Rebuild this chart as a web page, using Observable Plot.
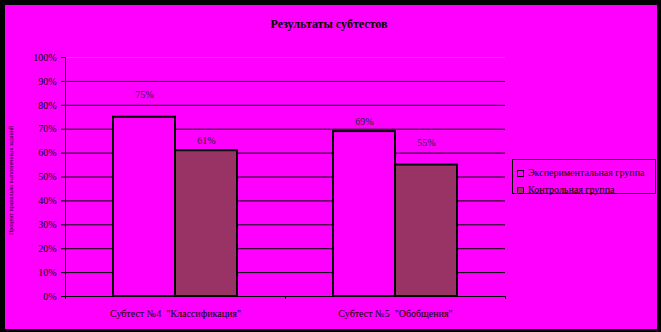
<!DOCTYPE html>
<html>
<head>
<meta charset="utf-8">
<script src="https://cdn.jsdelivr.net/npm/d3@7"></script>
<script src="https://cdn.jsdelivr.net/npm/@observablehq/plot@0.6"></script>
<style>
  html, body { margin: 0; padding: 0; }
  body { background: #000; width: 661px; height: 332px; position: relative; overflow: hidden; }
  #panel { position: absolute; left: 5px; top: 5px; width: 652px; height: 324px; background: #FF00FF; }
  #chart { position: absolute; left: 0; top: 0; }
  #title { position: absolute; left: -2px; width: 652px; top: 12px; line-height: 12px; text-align: center;
           font: bold 12px "Liberation Serif", serif; color: #000; }
  #legend { position: absolute; left: 507px; top: 154px; width: 142px; height: 33px; border: 1px solid #000;
            font: 10px "Liberation Serif", serif; color: #000; }
  .item { position: absolute; left: 4px; height: 10px; line-height: 10px; white-space: nowrap; }
  .sw { position: absolute; left: 0; top: 2px; width: 5px; height: 5px; border: 1px solid #000; }
  .lbl { position: absolute; left: 11px; top: 0; }
</style>
</head>
<body>
<div id="panel">
  <div id="chart"></div>
  <div id="title"></div>
  <div id="legend"></div>
</div>
<script>
const categories = ['Субтест №4  "Классификация"', 'Субтест №5  "Обобщения"'];
const groups = ["Экспериментальная группа", "Контрольная группа"];
const groupColors = ["#FF00FF", "#993366"];
const experimental = [0.75, 0.69];
const control = [0.61, 0.55];
const yTicks = [0, 0.1, 0.2, 0.3, 0.4, 0.5, 0.6, 0.7, 0.8, 0.9, 1.0];
const titleText = "Результаты субтестов";
const yLabel = "Процент правильно выполненных заданий";

const series = [experimental, control];
const rows = [];
categories.forEach((c, ci) => {
  groups.forEach((g, gi) => {
    rows.push({category: c, group: g, value: series[gi][ci], ci, gi});
  });
});

const fmt = d3.format(".0%");

const plot = Plot.plot({
  width: 652,
  height: 324,
  marginLeft: 60,
  marginRight: 152,
  marginTop: 52,
  marginBottom: 33,
  style: {background: "transparent", fontFamily: "Liberation Serif, serif", fontSize: "10px", color: "#000", overflow: "visible"},
  fx: {domain: categories, padding: 0, label: null},
  x: {domain: groups, paddingInner: 0, paddingOuter: 0.75, axis: null},
  y: {domain: [0, 1], axis: null},
  color: {domain: groups, range: groupColors},
  marks: [
    Plot.ruleY(yTicks.filter(t => t > 0 && t < 1), {stroke: "#000", strokeWidth: 1}),
    Plot.ruleY([1], {stroke: "#808080", strokeWidth: 1}),
    Plot.barY(rows, {fx: "category", x: "group", y: "value", fill: "group", stroke: "#000", strokeWidth: 2, insetLeft: 0, insetRight: 0}),
    Plot.ruleY([0], {stroke: "#000", strokeWidth: 1}),
    Plot.text(rows.filter(d => d.ci === d.gi), {fx: "category", x: "group", y: "value", text: d => fmt(d.value), dy: -22, fill: "#222", fontSize: 10}),
    Plot.text(rows.filter(d => d.ci !== d.gi), {fx: "category", x: "group", y: "value", text: d => fmt(d.value), dy: -10, fill: "#222", fontSize: 10}),
    Plot.axisY({ticks: yTicks, tickFormat: fmt, tickSize: 4, tickPadding: 5, label: null, fontSize: 10}),
    Plot.axisFx({anchor: "bottom", tickSize: 0, tickPadding: 13, label: null, fontSize: 10})
  ]
});
document.getElementById("chart").appendChild(plot);

// y axis line and category boundary ticks, positioned with the plot's own scales
const svg = d3.select(plot);
const fx = plot.scale("fx");
const y = plot.scale("y");
const y0 = y.apply(0), y1 = y.apply(1);
const left = fx.apply(categories[0]);
const bw = fx.bandwidth;
const g = svg.append("g").attr("stroke", "#000").attr("stroke-width", 1);
g.append("line").attr("x1", left + 0.5).attr("x2", left + 0.5).attr("y1", y1).attr("y2", y0 + 3);
categories.forEach(c => {
  const xe = fx.apply(c) + bw;
  g.append("line").attr("x1", xe + 0.5).attr("x2", xe + 0.5).attr("y1", y0).attr("y2", y0 + 3);
});
// y axis title
svg.append("text")
  .attr("transform", `translate(8,${(y0 + y1) / 2 + 4}) rotate(-90)`)
  .attr("text-anchor", "middle")
  .attr("font-size", 6)
  .attr("font-family", "Liberation Serif, serif")
  .attr("fill", "#000")
  .text(yLabel);

document.getElementById("title").textContent = titleText;

const legend = document.getElementById("legend");
groups.forEach((gname, i) => {
  const item = document.createElement("div");
  item.className = "item";
  item.style.top = (8 + i * 17) + "px";
  const sw = document.createElement("div");
  sw.className = "sw";
  sw.style.background = groupColors[i];
  const lbl = document.createElement("div");
  lbl.className = "lbl";
  lbl.textContent = gname;
  item.appendChild(sw);
  item.appendChild(lbl);
  legend.appendChild(item);
});
</script>
</body>
</html>
